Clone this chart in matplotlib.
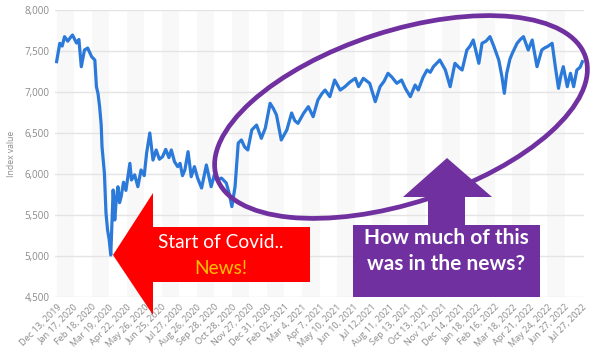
import matplotlib
matplotlib.use("Agg")
import matplotlib.pyplot as plt
from matplotlib.patches import Polygon, Ellipse

# ---- data (trading-day index, index value) ----
tick_labels = ["Dec 13, 2019", "Jan 17, 2020", "Feb 18, 2020", "Mar 19, 2020", "Apr 22, 2020",
               "May 26, 2020", "Jun 25, 2020", "Jul 27, 2020", "Aug 26, 2020", "Sep 28, 2020",
               "Oct 28, 2020", "Nov 27, 2020", "Dec 31, 2020", "Feb 02, 2021", "Mar 4, 2021",
               "Apr 7, 2021", "May 10, 2021", "Jun 10, 2021", "Jul 12,2021", "Aug 11, 2021",
               "Sep 13, 2021", "Oct 13, 2021", "Nov 12, 2021", "Dec 14, 2021", "Jan 18, 2022",
               "Feb 16, 2022", "Mar 18, 2022", "Apr 21, 2022", "May 24, 2022", "Jun 27, 2022",
               "Jul 27, 2022"]
tick_step = 22  # trading days between labels

days = [0, 4, 7, 10, 14, 17, 20, 25, 28, 31, 35, 39, 44, 48, 50, 52, 54, 56, 57, 60, 62, 64,
        66, 68, 71, 73, 75, 77, 79, 81, 84, 87, 90, 92, 94, 98, 102, 106, 110, 113, 117, 121,
        125, 129, 133, 137, 141, 144, 148, 152, 155, 158, 161, 165, 169, 173, 177, 182, 188,
        194, 198, 201, 207, 213, 217, 220, 224, 228, 232, 236, 240, 245, 251, 257, 262, 268,
        272, 276, 282, 289, 295, 299, 303, 310, 316, 322, 328, 333, 337, 343, 349, 356, 362,
        368, 375, 379, 385, 393, 400, 406, 411, 416, 421, 427, 433, 438, 444, 450, 454, 460,
        465, 469, 473, 477, 481, 488, 494, 500, 505, 509, 515, 519, 523, 530, 534, 539, 544,
        549, 555, 559, 562, 565, 569, 572, 578, 582, 586, 592, 597, 603, 609, 613, 616, 622,
        626, 630, 633, 636, 641, 645, 649, 653, 657, 660]
values = [7370, 7594, 7560, 7675, 7620, 7660, 7695, 7597, 7640, 7308, 7512, 7536, 7430, 7390,
          7065, 6980, 6820, 6597, 6334, 6012, 5524, 5317, 5200, 5012, 5805, 5439, 5700, 5845,
          5650, 5722, 5900, 5800, 6000, 6130, 5927, 5990, 5845, 6049, 5980, 6256, 6500, 6170,
          6293, 6180, 6211, 6300, 6200, 6293, 6150, 6090, 6130, 5980, 6049, 6272, 5967, 6090,
          5950, 5829, 6110, 5845, 5990, 5927, 5950, 5890, 5750, 5602, 5845, 6378, 6415, 6330,
          6293, 6537, 6597, 6435, 6560, 6862, 6800, 6720, 6415, 6537, 6744, 6650, 6618, 6740,
          6821, 6699, 6903, 6980, 7024, 6943, 7146, 7024, 7065, 7120, 7167, 7065, 7167, 7106,
          6882, 7065, 7130, 7228, 7180, 7106, 7146, 7040, 6943, 7085, 7024, 7180, 7268, 7240,
          7309, 7350, 7390, 7268, 7065, 7350, 7300, 7268, 7512, 7560, 7634, 7350, 7594, 7620,
          7675, 7553, 7390, 7187, 6984, 7228, 7400, 7472, 7594, 7640, 7675, 7512, 7634, 7309,
          7512, 7540, 7553, 7594, 7309, 7045, 7200, 7309, 7065, 7228, 7065, 7268, 7300, 7370]
yticks = [4500, 5000, 5500, 6000, 6500, 7000, 7500, 8000]

W, H = 600, 364
fig = plt.figure(figsize=(W / 100, H / 100), dpi=100)
fig.patch.set_facecolor("white")

ax = fig.add_axes([55 / W, (H - 297) / H, (584 - 55) / W, (297 - 10) / H])
ax.set_facecolor("white")
n_ticks = len(tick_labels)
tick_pos = [i * tick_step for i in range(n_ticks)]
for i in range(0, n_ticks - 1, 2):
    ax.axvspan(tick_pos[i], tick_pos[i + 1], color="#f8f8f8", lw=0, zorder=0)
for yv in yticks:
    ax.axhline(yv, color="#e4e4e4", lw=1, zorder=1)
ax.plot(days, values, color="#2b79d9", lw=2.3, zorder=3, solid_joinstyle="round")
ax.set_xlim(-2, 662)
ax.set_ylim(4500, 8000)
ax.set_yticks(yticks)
ax.set_yticklabels([f"{v:,}" for v in yticks], fontsize=7, color="#8a8a8a", family="Open Sans")
ax.set_xticks(tick_pos)
ax.set_xticklabels(tick_labels, rotation=45, ha="right", rotation_mode="anchor",
                   fontsize=6.6, color="#8a8a8a", family="Open Sans")
ax.tick_params(length=0, pad=4)
for s in ax.spines.values():
    s.set_visible(False)
ax.set_ylabel("Index value", fontsize=6.2, color="#8a8a8a", family="Open Sans", labelpad=6)

# ---- overlay annotations in pixel coords ----
ov = fig.add_axes([0, 0, 1, 1], zorder=10)
ov.set_xlim(0, W)
ov.set_ylim(H, 0)
ov.axis("off")
ov.patch.set_alpha(0)

red = "#ff0000"
red_arrow = [(113, 255), (153, 193), (153, 227), (310, 227), (310, 282), (153, 282), (153, 315)]
ov.add_patch(Polygon(red_arrow, closed=True, fc=red, ec="none"))
ov.text(221, 243, "Start of Covid..", color="white", fontsize=13.8, family="Lato",
        ha="center", va="center")
ov.text(221, 269, "News!", color="#ffc000", fontsize=13.8, family="Lato",
        ha="center", va="center")

purple = "#7030a0"
ov.add_patch(Ellipse((401, 117), 388, 172, angle=-18, fc="none", ec=purple, lw=3.4))
up_arrow = [(447, 158), (492, 197), (465, 197), (465, 225), (540, 225), (540, 297),
            (353, 297), (353, 225), (428, 225), (428, 197), (403, 197)]
ov.add_patch(Polygon(up_arrow, closed=True, fc=purple, ec="none"))
ov.text(446, 238, "How much of this", color="white", fontsize=15, family="Lato",
        weight="bold", ha="center", va="center")
ov.text(446, 264, "was in the news?", color="white", fontsize=15, family="Lato",
        weight="bold", ha="center", va="center")

fig.savefig("out.png", dpi=100)
